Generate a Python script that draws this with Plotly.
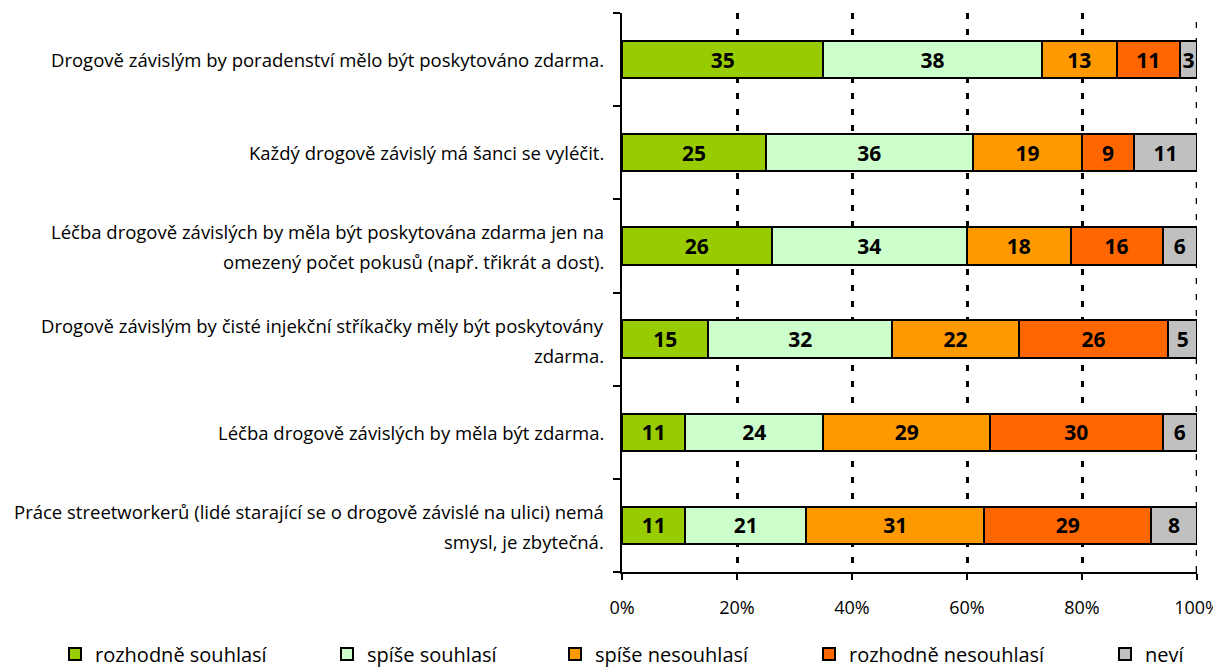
import plotly.graph_objects as go

categories = [
    "Drogově závislým by poradenství mělo být poskytováno zdarma.",
    "Každý drogově závislý má šanci se vyléčit.",
    "Léčba drogově závislých by měla být poskytována zdarma jen na<br>omezený počet pokusů (např. třikrát a dost).",
    "Drogově závislým by čisté injekční stříkačky měly být poskytovány<br>zdarma.",
    "Léčba drogově závislých by měla být zdarma.",
    "Práce streetworkerů (lidé starající se o drogově závislé na ulici) nemá<br>smysl, je zbytečná.",
]
series_names = ["rozhodně souhlasí", "spíše souhlasí", "spíše nesouhlasí", "rozhodně nesouhlasí", "neví"]
rozhodne_souhlasi = [35, 25, 26, 15, 11, 11]
spise_souhlasi = [38, 36, 34, 32, 24, 21]
spise_nesouhlasi = [13, 19, 18, 22, 29, 31]
rozhodne_nesouhlasi = [11, 9, 16, 26, 30, 29]
nevi = [3, 11, 6, 5, 6, 8]
x_tick_vals = [0, 20, 40, 60, 80, 100]
x_tick_text = ["0%", "20%", "40%", "60%", "80%", "100%"]

series_values = [rozhodne_souhlasi, spise_souhlasi, spise_nesouhlasi, rozhodne_nesouhlasi, nevi]
colors = ["#99CC00", "#CCFFCC", "#FF9900", "#FF6600", "#C0C0C0"]

FONT = "Open Sans, sans-serif"
W, H = 1221, 668
OFF = 8  # page body margin offset
# target plot area in page pixels: left 622, top 13, right 1197, bottom 572
L = 622 - OFF
T = 13 - OFF
R = W - (1197 - OFF)
B = H - (572 - OFF)

legend_text_starts = [95, 367, 595, 849, 1145]  # page pixels
legend_center_y = 654  # page pixels

fig = go.Figure()
for i, (name, vals, col) in enumerate(zip(series_names, series_values, colors)):
    lg = "legend" if i == 0 else f"legend{i+1}"
    fig.add_trace(go.Bar(
        y=categories, x=vals, name=name, orientation="h",
        marker=dict(color=col, line=dict(color="black", width=2)),
        text=[str(v) for v in vals], textposition="inside",
        insidetextanchor="middle", textangle=0, constraintext="none",
        textfont=dict(family=FONT, size=21, color="black", weight="bold"),
        width=0.4, legend=lg, hoverinfo="skip",
    ))

layout_legends = {}
for i, ts in enumerate(legend_text_starts):
    key = "legend" if i == 0 else f"legend{i+1}"
    layout_legends[key] = dict(
        x=(ts - OFF - 40) / W, xanchor="left", xref="container",
        y=1 - (legend_center_y - OFF) / H, yanchor="middle", yref="container",
        orientation="h", font=dict(family=FONT, size=20, color="black"),
        bgcolor="rgba(0,0,0,0)", borderwidth=0, itemclick=False,
        tracegroupgap=0, visible=True,
    )

annotations = []
for c in categories:
    lines = c.split("<br>")
    n = len(lines)
    for k, line in enumerate(lines):
        annotations.append(dict(
            x=0, xref="paper", xshift=-16, xanchor="right",
            y=c, yref="y", yanchor="middle",
            yshift=((n - 1) / 2 - k) * 30 - (1 if n > 1 else 0),
            text=line, showarrow=False, align="center",
            font=dict(family=FONT, size=18.5, color="black"),
        ))

shapes = [dict(
    type="line", xref="x", yref="paper", x0=100, x1=100, y0=0, y1=1,
    line=dict(color="black", width=2.5, dash="6px,10px"), layer="below",
)]

fig.update_layout(
    width=W, height=H,
    margin=dict(l=L, r=R, t=T, b=B, pad=0, autoexpand=False),
    barmode="stack",
    plot_bgcolor="white", paper_bgcolor="white",
    font=dict(family=FONT, size=18, color="black"),
    annotations=annotations,
    shapes=shapes,
    showlegend=True,
    xaxis=dict(
        range=[0, 100], tickvals=x_tick_vals, ticktext=x_tick_text,
        showgrid=True, gridcolor="black", griddash="6px,10px", gridwidth=2.5,
        showline=True, linecolor="black", linewidth=2,
        ticks="outside", ticklen=6, tickwidth=2, tickcolor="black",
        ticklabelstandoff=12,
        zeroline=False, fixedrange=True, automargin=False,
        tickfont=dict(family=FONT, size=18, color="black"),
    ),
    yaxis=dict(
        categoryorder="array", categoryarray=categories[::-1],
        showticklabels=False, tickson="boundaries",
        ticks="outside", ticklen=7, tickwidth=2, tickcolor="black",
        showline=True, linecolor="black", linewidth=2,
        showgrid=False, zeroline=False, fixedrange=True, automargin=False,
    ),
    **layout_legends,
)

fig.write_html("out.html")
